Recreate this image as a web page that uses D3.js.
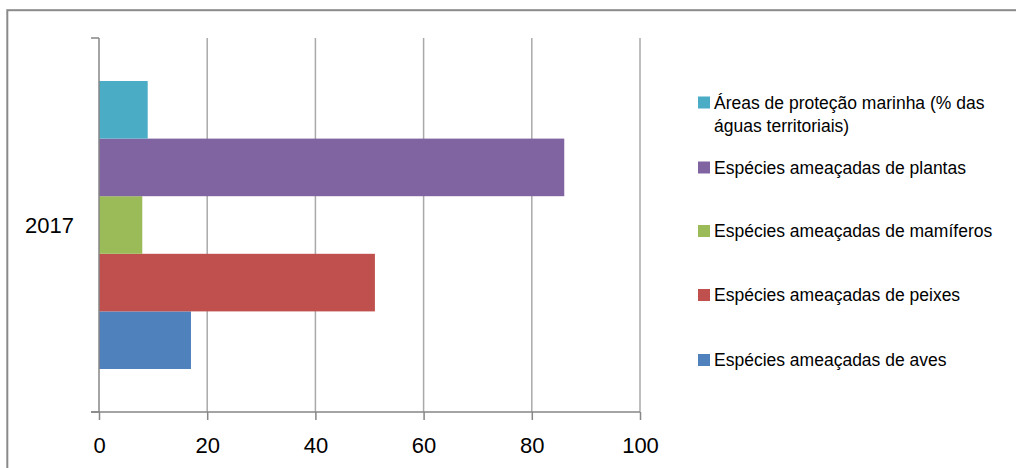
<!DOCTYPE html>
<html>
<head>
<meta charset="utf-8">
<script src="https://cdn.jsdelivr.net/npm/d3@7"></script>
<style>
  body { margin: 0; background: #fff; }
  svg text { font-family: "Liberation Sans", Arial, sans-serif; fill: #000; }
</style>
</head>
<body>
<div id="chart"></div>
<script>
// data, bottom-to-top like the original series order
const categories = ["2017"];
const seriesNames = [
  "Espécies ameaçadas de aves",
  "Espécies ameaçadas de peixes",
  "Espécies ameaçadas de mamíferos",
  "Espécies ameaçadas de plantas",
  "Áreas de proteção marinha (% das\náguas territoriais)"
];
const seriesValues = [17, 51, 8, 86, 9];
const seriesColors = ["#4F81BD", "#C0504D", "#9BBB59", "#8064A2", "#4BACC6"];
const xTicks = [0, 20, 40, 60, 80, 100];

const width = 1016, height = 468;
const plot = { left: 99, right: 640, top: 38, bottom: 412 };

const svg = d3.select("#chart").append("svg")
  .attr("width", width)
  .attr("height", height);

// outer chart border (right/bottom fall outside the picture)
svg.append("rect")
  .attr("x", 7.3).attr("y", 10.2)
  .attr("width", 1030).attr("height", 480)
  .attr("fill", "none")
  .attr("stroke", "#8a8a8a")
  .attr("stroke-width", 2);

const xScale = d3.scaleLinear().domain([0, 100]).range([plot.left, plot.right]);

const yBand = d3.scaleBand()
  .domain(categories)
  .range([plot.bottom, plot.top])
  .paddingInner(0)
  .paddingOuter(0);

// the series inside the category, gap width ~150%
const ySeries = d3.scaleBand()
  .domain(d3.range(seriesNames.length))
  .range([yBand.bandwidth() - 43, 43]);

// gridlines
svg.append("g")
  .selectAll("line")
  .data(xTicks.slice(1))
  .enter()
  .append("line")
    .attr("x1", d => xScale(d))
    .attr("x2", d => xScale(d))
    .attr("y1", plot.top)
    .attr("y2", plot.bottom)
    .attr("stroke", "#a9a9a9")
    .attr("stroke-width", 1.5);

// bars
const catG = svg.selectAll(".cat")
  .data(categories)
  .enter()
  .append("g")
    .attr("transform", d => "translate(0," + yBand(d) + ")");

catG.selectAll("rect")
  .data(seriesValues.map((v, i) => ({ i: i, v: v })))
  .enter()
  .append("rect")
    .attr("x", xScale(0))
    .attr("y", d => ySeries(d.i))
    .attr("width", d => xScale(d.v) - xScale(0))
    .attr("height", ySeries.bandwidth())
    .attr("fill", d => seriesColors[d.i]);

// x axis
const xAxis = svg.append("g")
  .attr("transform", "translate(0," + plot.bottom + ")")
  .call(d3.axisBottom(xScale).tickValues(xTicks).tickSize(8).tickPadding(17));
xAxis.select(".domain").remove();
xAxis.selectAll(".tick line").attr("stroke", "#868686").attr("stroke-width", 1.5);
xAxis.selectAll("text").style("font-size", "22px").attr("fill", "#000");
xAxis.append("line")
  .attr("x1", plot.left - 8).attr("x2", plot.right)
  .attr("stroke", "#868686").attr("stroke-width", 1.5);

// y axis
const yAxis = svg.append("g");
yAxis.append("line")
  .attr("x1", plot.left).attr("x2", plot.left)
  .attr("y1", plot.top).attr("y2", plot.bottom)
  .attr("stroke", "#868686").attr("stroke-width", 1.5);
yAxis.selectAll(".edge")
  .data([plot.top, plot.bottom])
  .enter()
  .append("line")
    .attr("x1", plot.left - 8).attr("x2", plot.left)
    .attr("y1", d => d).attr("y2", d => d)
    .attr("stroke", "#868686").attr("stroke-width", 1.5);
yAxis.selectAll(".catlabel")
  .data(categories)
  .enter()
  .append("text")
    .attr("x", 74)
    .attr("y", d => yBand(d) + yBand.bandwidth() / 2)
    .attr("dy", "0.35em")
    .attr("text-anchor", "end")
    .style("font-size", "22px")
    .text(d => d);

// legend, top-to-bottom (reverse of series order)
const legendY = [102.5, 167.5, 231, 295, 360];
const legendOrder = d3.range(seriesNames.length).reverse();
const legend = svg.append("g");
legendOrder.forEach((si, k) => {
  const g = legend.append("g").attr("transform", "translate(698," + legendY[k] + ")");
  g.append("rect")
    .attr("x", 0).attr("y", -6)
    .attr("width", 12).attr("height", 12)
    .attr("fill", seriesColors[si]);
  const t = g.append("text")
    .attr("x", 16)
    .attr("y", 0)
    .style("font-size", "17.5px");
  seriesNames[si].split("\n").forEach((line, j) => {
    t.append("tspan")
      .attr("x", 16)
      .attr("dy", j === 0 ? "0.35em" : "1.35em")
      .text(line);
  });
});
</script>
</body>
</html>
